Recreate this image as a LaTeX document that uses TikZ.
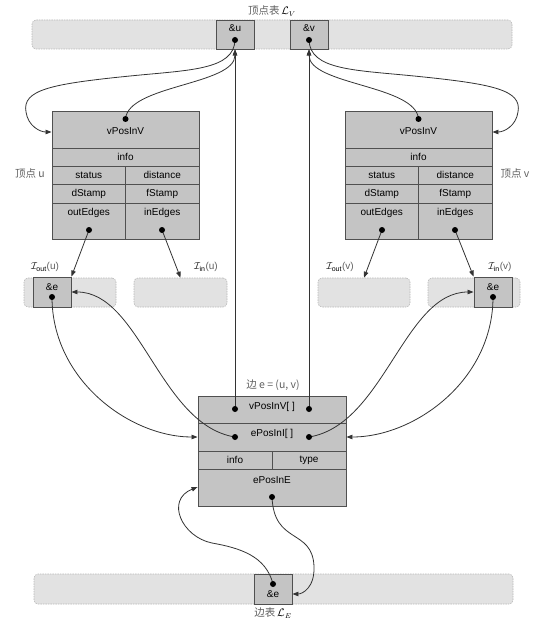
\documentclass[tikz,border=0pt]{standalone}
\usepackage{fontspec}
\setmainfont{Liberation Sans}
\newfontfamily\cjk{Noto Sans CJK SC}
\usetikzlibrary{arrows.meta}
\definecolor{cellfill}{HTML}{C4C4C4}
\definecolor{cellline}{HTML}{505050}
\definecolor{barfill}{HTML}{E2E2E2}
\definecolor{barline}{HTML}{B8B8B8}
\definecolor{linec}{HTML}{333333}
\definecolor{labc}{HTML}{606060}
\newcommand\mybox[7]{\node[#1,minimum width={#5-#3},minimum height={#6-#4}] (#2) at ({(#3+#5)/2},{-(#4+#6)/2}) {#7};}
\begin{document}
\begin{tikzpicture}[x=1pt,y=1pt,
 cell/.style={draw=cellline, fill=cellfill, line width=0.9pt, inner sep=0pt, font=\fontsize{10}{11}\selectfont},
 bar/.style={draw=barline, fill=barfill, dash pattern=on 1.5pt off 1pt, rounded corners=4pt, line width=0.6pt, inner sep=0pt},
 ftext/.style={font=\fontsize{10}{11}\selectfont, inner sep=0pt},
 clab/.style={font=\cjk\fontsize{10.5}{12}\selectfont, text=labc, inner sep=0pt},
 ilab/.style={font=\fontsize{10}{11}\selectfont, text=labc, inner sep=0pt},
 ptr/.style={draw=linec, line width=0.8pt, -{Triangle[length=6pt,width=4.5pt]}},
 dotc/.style={fill=black}]
\useasboundingbox (0,0) rectangle (554,-620);

% ---------- bars ----------
\mybox{bar}{vbar}{32}{20}{512}{49}{}
\mybox{bar}{ioutu}{24}{278}{116}{307}{}
\mybox{bar}{iinu}{134}{278}{227}{307}{}
\mybox{bar}{ioutv}{318}{278}{410}{307}{}
\mybox{bar}{iinv}{428}{278}{520}{307}{}
\mybox{bar}{ebar}{34}{574}{513}{604}{}

% ---------- vertex list cells ----------
\mybox{cell}{uaddr}{216}{20}{254}{49}{}
\mybox{cell}{vaddr}{290}{20}{328}{49}{}
\node[ftext] (uaddrt) at (235,-28) {\&u};
\node[ftext] (vaddrt) at (309,-28) {\&v};
\coordinate (uaddrdot) at (235,-40);
\coordinate (vaddrdot) at (309,-40);

% ---------- vertex u ----------
\mybox{cell}{uvpos}{52}{111}{199}{148}{}
\mybox{cell}{uinfo}{52}{148}{199}{166}{info}
\mybox{cell}{ustat}{52}{166}{125.5}{184}{status}
\mybox{cell}{udist}{125.5}{166}{199}{184}{distance}
\mybox{cell}{udst}{52}{184}{125.5}{203}{dStamp}
\mybox{cell}{ufst}{125.5}{184}{199}{203}{fStamp}
\mybox{cell}{uout}{52}{203}{125.5}{239}{}
\mybox{cell}{uin}{125.5}{203}{199}{239}{}
\node[ftext] (uvpost) at (125.5,-131) {vPosInV};
\node[ftext] (uoutt) at (88.75,-213) {outEdges};
\node[ftext] (uint) at (162.25,-213) {inEdges};
\coordinate (uvposdot) at (125.5,-119);
\coordinate (uoutdot) at (89,-230);
\coordinate (uindot) at (162,-230);

% ---------- vertex v ----------
\mybox{cell}{vvpos}{345}{111}{492}{148}{}
\mybox{cell}{vinfo}{345}{148}{492}{166}{info}
\mybox{cell}{vstat}{345}{166}{418.5}{184}{status}
\mybox{cell}{vdist}{418.5}{166}{492}{184}{distance}
\mybox{cell}{vdst}{345}{184}{418.5}{203}{dStamp}
\mybox{cell}{vfst}{418.5}{184}{492}{203}{fStamp}
\mybox{cell}{vout}{345}{203}{418.5}{239}{}
\mybox{cell}{vin}{418.5}{203}{492}{239}{}
\node[ftext] (vvpost) at (418.5,-131) {vPosInV};
\node[ftext] (voutt) at (381.75,-213) {outEdges};
\node[ftext] (vint) at (455.25,-213) {inEdges};
\coordinate (vvposdot) at (418.5,-119);
\coordinate (voutdot) at (382,-230);
\coordinate (vindot) at (455,-230);

% ---------- incidence list cells ----------
\mybox{cell}{eu}{33}{277}{71}{307}{}
\node[ftext] (eut) at (52,-287) {\&e};
\coordinate (eudot) at (52,-297);
\mybox{cell}{ev}{474}{277}{512}{307}{}
\node[ftext] (evt) at (493,-287) {\&e};
\coordinate (evdot) at (493,-297);

% ---------- edge e ----------
\mybox{cell}{evpos}{198}{396}{346}{423}{}
\mybox{cell}{epos}{198}{423}{346}{451}{}
\mybox{cell}{einfo}{198}{451}{272}{469}{info}
\mybox{cell}{etype}{272}{451}{346}{469}{type}
\mybox{cell}{epose}{198}{469}{346}{506}{}
\node[ftext] (evpost) at (272,-407) {vPosInV[ ]};
\node[ftext] (epost) at (272,-434) {ePosInI[ ]};
\node[ftext] (eposet) at (272,-480) {ePosInE};
\coordinate (evldot) at (235,-409);
\coordinate (evrdot) at (309,-409);
\coordinate (epldot) at (235,-437);
\coordinate (eprdot) at (309,-437);
\coordinate (eedot) at (272,-497);

% ---------- edge list cell ----------
\mybox{cell}{eaddr}{254}{574}{292}{604}{}
\node[ftext] (eaddrt) at (273,-594) {\&e};
\coordinate (eaddrdot) at (273,-584);

% ---------- labels ----------
\node[clab] (vlistlab) at (272,-11) {顶点表\,{\color{black}$\mathcal{L}_V$}};
\node[clab] (elistlab) at (273,-613) {边表\,{\color{black}$\mathcal{L}_E$}};
\node[clab] (ulab) at (30,-174) {顶点 u};
\node[clab] (vlab) at (515,-174) {顶点 v};
\node[clab] (elab) at (273,-385) {边 e = (u, v)};
\node[ilab] (ioutulab) at (45,-267) {{\color{black}$\mathcal{I}_{\mathrm{out}}$}(u)};
\node[ilab] (iinulab) at (206,-267) {{\color{black}$\mathcal{I}_{\mathrm{in}}$}(u)};
\node[ilab] (ioutvlab) at (340,-267) {{\color{black}$\mathcal{I}_{\mathrm{out}}$}(v)};
\node[ilab] (iinvlab) at (500,-267) {{\color{black}$\mathcal{I}_{\mathrm{in}}$}(v)};

% ---------- connectors ----------
\draw[ptr] (uaddrdot) .. controls (234,-70) and (190,-70) .. (130,-76)
  .. controls (50,-84) and (22,-90) .. (26,-112)
  .. controls (28,-126) and (40,-132) .. (uvpos.west |- 0,-132);
\draw[ptr] (vaddrdot) .. controls (310,-70) and (354,-70) .. (414,-76)
  .. controls (494,-84) and (522,-90) .. (518,-112)
  .. controls (516,-126) and (504,-132) .. (vvpos.east |- 0,-132);
\draw[ptr] (uvposdot) .. controls (128,-85) and (235,-85) .. (uaddr.south);
\draw[ptr] (vvposdot) .. controls (416,-85) and (309,-85) .. (vaddr.south);
\draw[ptr] (evldot) -- (uaddr.south);
\draw[ptr] (evrdot) -- (vaddr.south);
\draw[ptr] (uoutdot) -- (eu.north east);
\draw[ptr] (uindot) -- (iinu.north);
\draw[ptr] (voutdot) -- (ioutv.north);
\draw[ptr] (vindot) -- (ev.north west);
\draw[ptr] (eudot) .. controls (52,-380) and (130,-437) .. (epos.west |- 0,-437);
\draw[ptr] (epldot) .. controls (160,-425) and (140,-292) .. (eu.east |- 0,-292);
\draw[ptr] (evdot) .. controls (493,-380) and (415,-437) .. (epos.east |- 0,-437);
\draw[ptr] (eprdot) .. controls (384,-425) and (404,-292) .. (ev.west |- 0,-292);
\draw[ptr] (eedot) .. controls (274,-545) and (312,-528) .. (314,-566)
  .. controls (315,-588) and (302,-594) .. (eaddr.east |- 0,-594);
\draw[ptr] (eaddrdot) .. controls (266,-556) and (240,-548) .. (212,-543)
  .. controls (182,-537) and (165,-500) .. (epose.west |- 0,-487);

% ---------- dots ----------
\foreach \d in {uaddrdot,vaddrdot,uvposdot,uoutdot,uindot,vvposdot,voutdot,vindot,eudot,evdot,evldot,evrdot,epldot,eprdot,eedot,eaddrdot}
  \fill[dotc] (\d) circle (3pt);
\end{tikzpicture}
\end{document}
